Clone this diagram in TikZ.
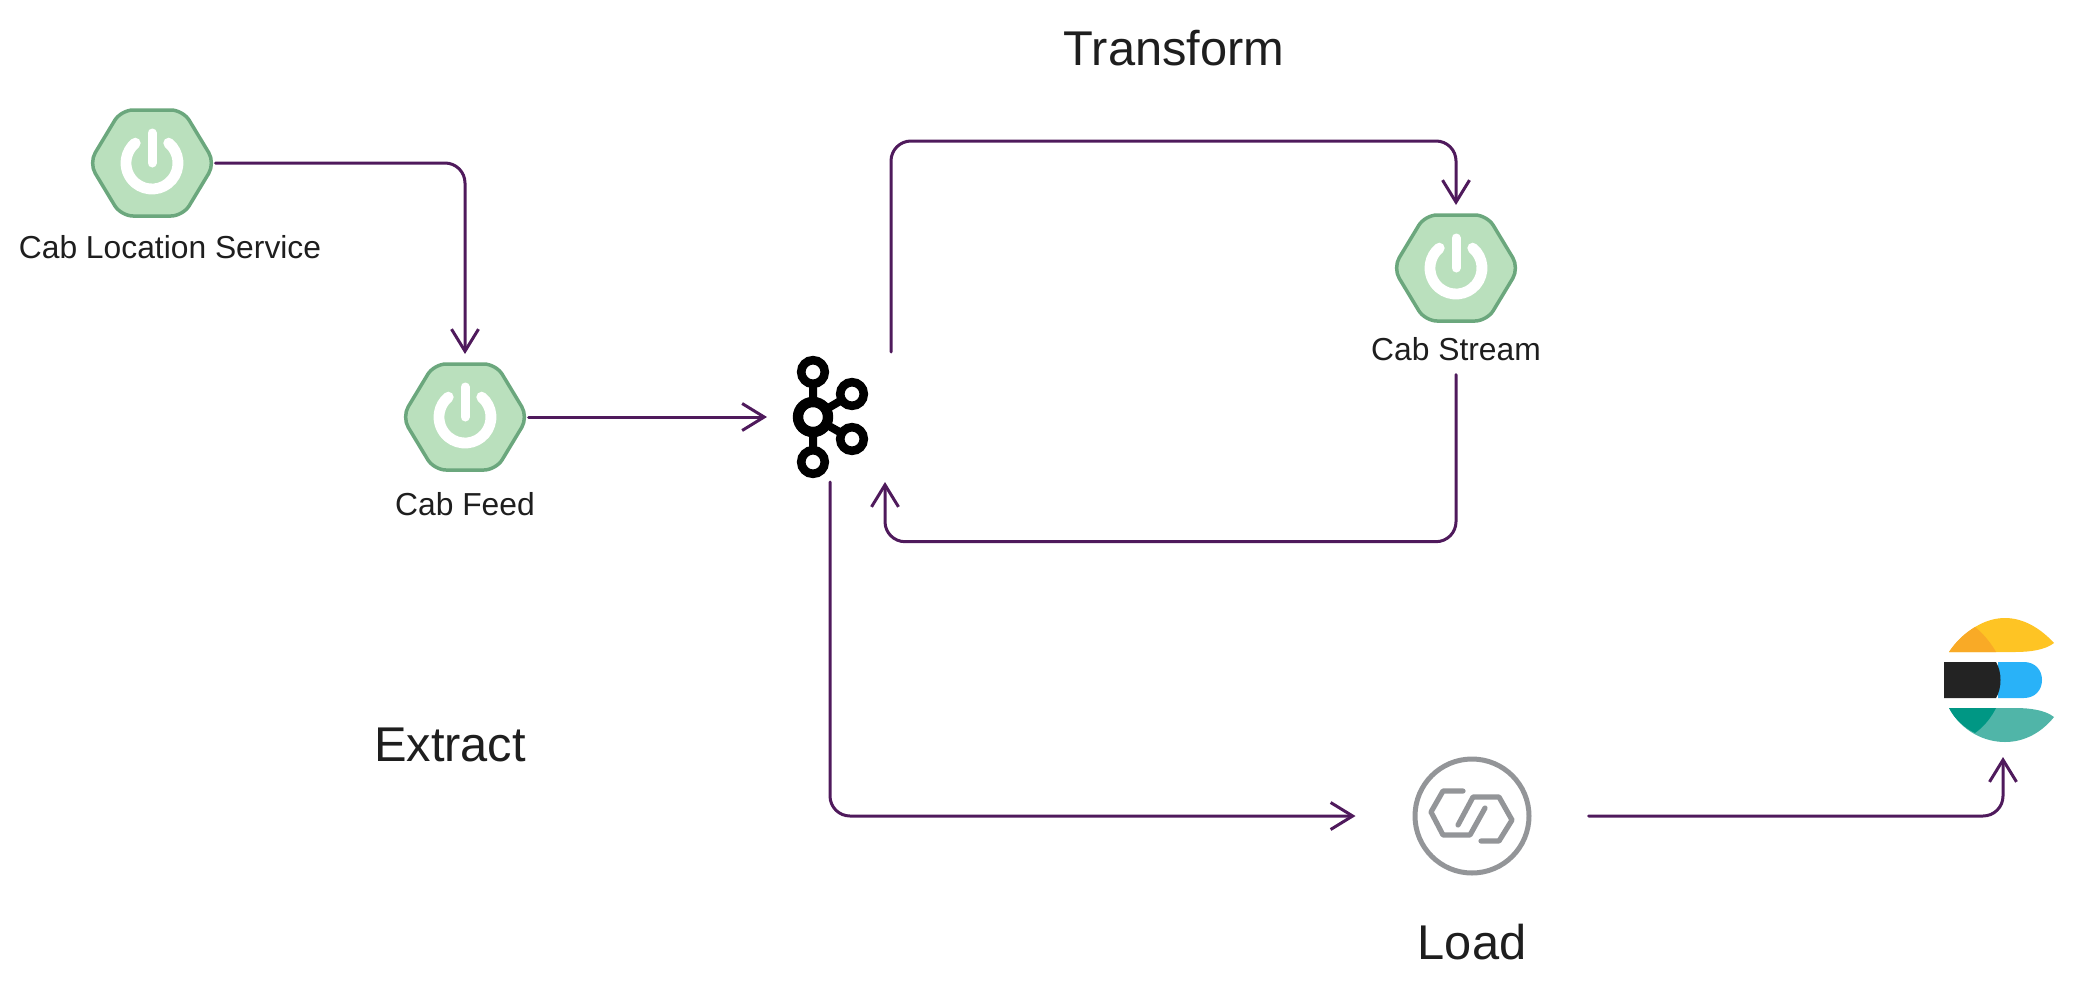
\documentclass[tikz,border=0pt]{standalone}
\usepackage{fontspec}
\setmainfont{Liberation Sans}
\usetikzlibrary{arrows.meta}
\definecolor{flowc}{HTML}{4F1A5C}
\definecolor{hexfill}{HTML}{BAE0BD}
\definecolor{hexline}{HTML}{6BA77D}
\definecolor{loadgray}{HTML}{939598}
\definecolor{txt}{HTML}{1E1E1E}
\definecolor{esyellow}{RGB}{254,196,36}
\definecolor{esorange}{RGB}{249,170,38}
\definecolor{esblue}{RGB}{41,178,248}
\definecolor{esblack}{RGB}{35,35,35}
\definecolor{esteal}{RGB}{80,181,168}
\definecolor{esdteal}{RGB}{0,151,132}
\tikzset{
  flow/.style={draw=flowc,line width=1.5pt,line cap=round,rounded corners=10pt,-{Straight Barb[length=11pt,width=13.5pt,line width=1.5pt]}},
  iconbox/.style={inner sep=0pt,outer sep=0pt,minimum width=63.5pt,minimum height=63pt},
  smalltxt/.style={font=\fontsize{15.9pt}{20pt}\selectfont,text=txt,inner xsep=0pt,inner ysep=6pt,outer sep=0pt},
  bigtxt/.style={font=\fontsize{24.4pt}{28pt}\selectfont,text=txt,inner sep=0pt},
  kring/.style={draw=black,fill=white},
  springicon/.pic={
    \draw[hexline,fill=hexfill,line width=1.75pt,rounded corners=6pt,line join=round]
      (-63,0)--(-31,-53)--(31,-53)--(63,0)--(31,53)--(-31,53)--cycle;
    \draw[white,line width=5.4pt,line cap=round] (16.7,-19.9) arc[start angle=50,delta angle=-280,radius=13pt];
    \draw[white,line width=4.5pt,line cap=round] (0,-30)--(0,0);
  }
}
\begin{document}
\begin{tikzpicture}[x=0.5pt,y=-0.5pt]
\useasboundingbox (0,0) rectangle (2098,996);
% nodes
\node[iconbox] (svc) at (152,163) {};
\node[iconbox] (feed) at (465,417) {};
\node[iconbox] (stream) at (1456,268) {};
\pic at (152,163) {springicon};
\pic at (465,417) {springicon};
\pic at (1456,268) {springicon};
\node[smalltxt] (svclabel) at (170,247) {Cab Location Service};
\node[smalltxt] (feedlabel) at (465,504) {Cab Feed};
\node[smalltxt,inner ysep=7pt] (streamlabel) at (1456,349) {Cab Stream};
\node[bigtxt] (transform) at (1174,48) {Transform};
\node[bigtxt] (extract) at (450,745) {Extract};
\node[bigtxt] (loadlabel) at (1472,942) {Load};
% kafka
\node[inner sep=0pt,outer sep=0pt,minimum width=63pt,minimum height=65pt] (kafka) at (830,417) {};
\coordinate (kafkaout) at (891,352);
\coordinate (kafkaback) at (885,482);
\draw[black,line width=4pt] (813,372)--(813,462) (813,417)--(852,394) (813,417)--(852,439);
\draw[kring,line width=5.2pt] (813,417) circle[radius=7.5pt];
\draw[kring,line width=4.3pt] (813,372) circle[radius=5.9pt];
\draw[kring,line width=4.3pt] (813,462) circle[radius=5.9pt];
\draw[kring,line width=4.3pt] (852,394) circle[radius=5.9pt];
\draw[kring,line width=4.3pt] (852,439) circle[radius=5.9pt];
% load icon
\node[inner sep=0pt,outer sep=0pt,minimum width=116.5pt,minimum height=58pt] (load) at (1472,816) {};
\draw[loadgray,line width=2.5pt] (1472,816) circle[radius=28.5pt];
\draw[loadgray,line width=2.6pt,line cap=round,line join=round]
  (1463,791)--(1443,791)--(1431,812)--(1443,835)--(1470,835)--(1485,808);
\draw[loadgray,line width=2.6pt,line cap=round,line join=round]
  (1458,825)--(1473,797)--(1499,797)--(1512,820)--(1499,841)--(1481,841);
% elastic logo
\node[inner sep=0pt,outer sep=0pt,minimum width=56pt,minimum height=77pt] (elastic) at (2003,680) {};
\fill[esyellow] (1949,652) .. controls (1965,630) and (1985,618) .. (2005,618) .. controls (2025,618) and (2042,630) .. (2054,643) .. controls (2045,650) and (2030,652) .. (2015,652) -- cycle;
\fill[esorange] (1949,652) .. controls (1956,641) and (1965,633) .. (1975,627) .. controls (1985,635) and (1992,645) .. (1996,652) -- cycle;
\fill[esblue] (1998,662) -- (2024,662) .. controls (2035,662) and (2042,670) .. (2042,680) .. controls (2042,690) and (2035,698) .. (2024,698) -- (1998,698) -- cycle;
\fill[esblack] (1944,662) -- (1996,662) .. controls (2002,672) and (2002,688) .. (1996,698) -- (1944,698) -- cycle;
\fill[esteal] (1949,708) -- (2015,708) .. controls (2030,708) and (2045,710) .. (2054,717) .. controls (2042,732) and (2025,742) .. (2005,742) .. controls (1985,742) and (1962,732) .. (1949,708) -- cycle;
\fill[esdteal] (1949,708) -- (1996,708) .. controls (1992,716) and (1985,726) .. (1975,733) .. controls (1965,728) and (1955,720) .. (1949,708) -- cycle;
% connectors
\draw[flow] (svc.east) -| (feed.north);
\draw[flow] (feed.east) -- (kafka.west);
\draw[flow] (kafkaout) -- ++(0,-211) -| (stream.north);
\draw[flow] (streamlabel.south) -- ++(0,167) -| (kafkaback);
\draw[flow] (kafka.south) |- (load.west);
\draw[flow] (load.east) -| (elastic.south);
\end{tikzpicture}
\end{document}
